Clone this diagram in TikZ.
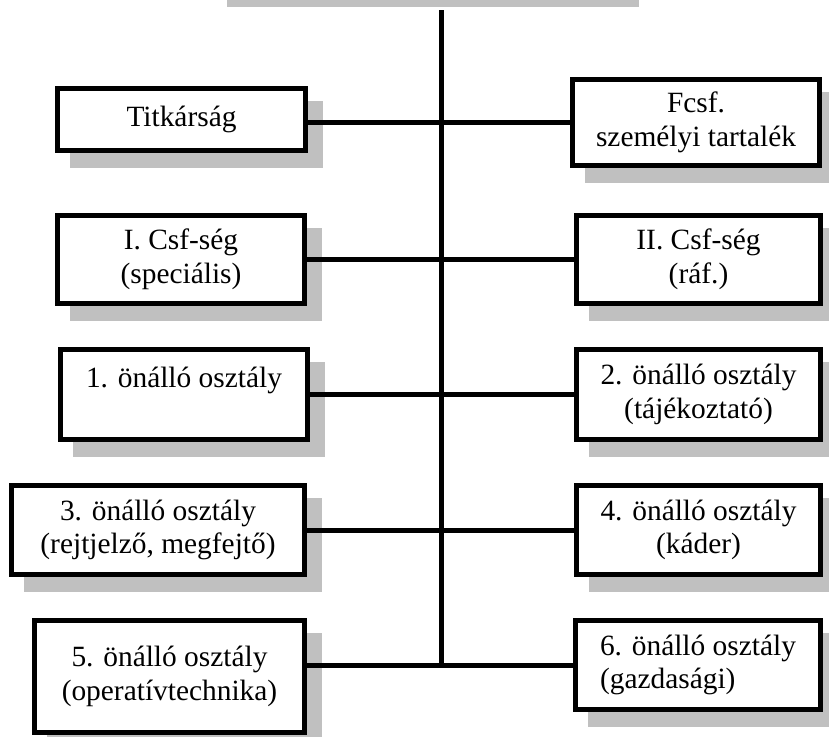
\documentclass[tikz,border=0pt]{standalone}
\usepackage{fontspec}
\setmainfont{Liberation Serif}
\usetikzlibrary{shadows}
\definecolor{shadowgray}{HTML}{C0C0C0}

\begin{document}
\begin{tikzpicture}[x=1pt, y=-1pt,
	box/.style={draw, line width=5pt, fill=white, align=center, inner sep=0pt,
		font=\fontsize{29.4}{33.5}\selectfont,
		drop shadow={shadow xshift=15pt, shadow yshift=-15pt, opacity=1, fill=shadowgray, draw=shadowgray, line width=5pt}},
	conn/.style={line width=5pt}]
		\clip (0,0) rectangle (829,736);
		% top box, only its shadow is inside the page
		\node[box, minimum width=407pt, minimum height=60pt] (fo) at (418,-40.5) {};
		\coordinate (trunktop) at (441,10);
		
		\node[box, minimum width=248pt, minimum height=62pt] (tit) at (181.5,119.5) {Titkárság};
		\node[box, minimum width=247pt, minimum height=86pt] (fcsf) at (696,122.5) {Fcsf.\\személyi tartalék};
		\node[box, minimum width=247pt, minimum height=88pt] (csf1) at (181,259.5) {I. Csf-ség\\(speciális)};
		\node[box, minimum width=244pt, minimum height=88pt] (csf2) at (698.5,259.5) {II. Csf-ség\\(ráf.)};
		\node[box, minimum width=247pt, minimum height=90pt] (oo1) at (184,394.5) {1. önálló osztály\\\mbox{}};
		\node[box, minimum width=244pt, minimum height=90pt] (oo2) at (698.5,394.5) {2. önálló osztály\\(tájékoztató)};
		\node[box, minimum width=293pt, minimum height=89pt] (oo3) at (158,530) {3. önálló osztály\\(rejtjelző, megfejtő)};
		\node[box, minimum width=244pt, minimum height=89pt] (oo4) at (698.5,530) {4. önálló osztály\\(káder)};
		\node[box, minimum width=270pt, minimum height=112pt] (oo5) at (169.5,676.5) {5. önálló osztály\\(operatívtechnika)};
		\node[box, align=left, minimum width=245pt, minimum height=89pt] (oo6) at (698,665) {6. önálló osztály\\(gazdasági)};
		
		\draw[conn] (trunktop) -- (trunktop |- oo6.west);
		\draw[conn] (tit.east |- fcsf.west) -- (fcsf.west);
		\draw[conn] (csf1.east |- csf2.west) -- (csf2.west);
		\draw[conn] (oo1.east |- oo2.west) -- (oo2.west);
		\draw[conn] (oo3.east |- oo4.west) -- (oo4.west);
		\draw[conn] (oo5.east |- oo6.west) -- (oo6.west);
		
	\end{tikzpicture}
\end{document}
